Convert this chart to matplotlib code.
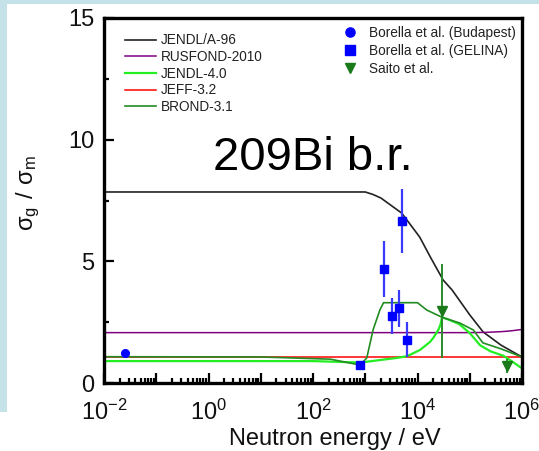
import matplotlib
matplotlib.use("Agg")
import matplotlib.pyplot as plt
from matplotlib.patches import Rectangle
from matplotlib.ticker import LogLocator, FixedLocator, FuncFormatter, NullFormatter
import numpy as np

plt.rcParams['font.family'] = ['Liberation Sans', 'DejaVu Sans']
plt.rcParams['mathtext.default'] = 'regular'
plt.rcParams['axes.unicode_minus'] = False

# Evaluated-library ratios sigma_g / sigma_m versus neutron energy (eV)
jendl_a96_E = [1e-2, 1e3, 1.4e3, 2e3, 5e3, 1.1e4, 1.8e4, 3.1e4, 4.6e4, 1e5, 1.8e5, 4e5, 1e6]
jendl_a96 = [7.85, 7.85, 7.75, 7.6, 6.98, 6.0, 5.14, 4.23, 3.82, 2.8, 2.1, 1.55, 1.07]

rusfond_E = [1e-2, 1e5, 2e5, 4e5, 6e5, 1e6]
rusfond = [2.07, 2.07, 2.08, 2.11, 2.14, 2.2]

jendl40_E = [1e-2, 1e2, 800, 4000, 6300, 1.12e4, 1.74e4, 2e4, 2.5e4, 2.75e4, 2.95e4,
             4e4, 6.3e4, 1e5, 1.58e5, 2.5e5, 4.4e5, 6.3e5, 1e6]
jendl40 = [0.9, 0.9, 0.84, 1.03, 1.1, 1.36, 1.69, 1.85, 2.18, 2.4, 2.7,
           2.6, 2.42, 2.05, 1.55, 1.3, 1.12, 0.9, 0.6]

jeff32_E = [1e-2, 1e6]
jeff32 = [1.08, 1.08]

brond31_E = [1e-2, 10, 214, 794, 1070, 1410, 1905, 2240, 1e4, 1.5e4, 2.95e4,
             6.5e4, 1.17e5, 1.78e5, 4e5, 1e6]
brond31 = [1.08, 1.07, 0.98, 0.74, 1.03, 2.18, 3.0, 3.3, 3.3, 3.0, 2.7,
           2.46, 2.18, 1.65, 1.4, 1.07]

# Measurements
budapest_E = [0.0253]
budapest = [1.23]

gelina_E = [800, 2300, 3200, 4500, 5000, 6300]
gelina = [0.74, 4.68, 2.75, 3.08, 6.66, 1.77]
gelina_err = [0.05, 1.15, 0.75, 0.76, 1.3, 0.72]

saito_E = [2.95e4, 5.1e5]
saito = [2.95, 0.70]
saito_err = [1.93, 0.3]

W, H = 539, 451
fig = plt.figure(figsize=(W / 100, H / 100), dpi=100)
fig.patch.set_facecolor('white')

# light blue slide border
band = '#c4e2e7'
fig.add_artist(Rectangle((0, (H - 412) / H), 7 / W, 412 / H, transform=fig.transFigure,
                         facecolor=band, edgecolor='none', zorder=0))
fig.add_artist(Rectangle((0, (H - 4) / H), 1, 4 / H, transform=fig.transFigure,
                         facecolor=band, edgecolor='none', zorder=0))

ax = fig.add_axes([104 / W, (H - 383) / H, (522 - 104) / W, (383 - 18) / H])

l1, = ax.plot(jendl_a96_E, jendl_a96, color='#222222', lw=1.2, label='JENDL/A-96')
l2, = ax.plot(rusfond_E, rusfond, color='#800080', lw=1.1, label='RUSFOND-2010')
l4, = ax.plot(jeff32_E, jeff32, color='#ff0000', lw=1.1, label='JEFF-3.2')
l3, = ax.plot(jendl40_E, jendl40, color='#22ee22', lw=1.6, label='JENDL-4.0')
l5, = ax.plot(brond31_E, brond31, color='#228b22', lw=1.2, label='BROND-3.1')

ax.errorbar(gelina_E, gelina, yerr=gelina_err, fmt='none', ecolor='#3a3aff', elinewidth=1.6,
            capsize=0, zorder=4)
ax.errorbar(saito_E, saito, yerr=saito_err, fmt='none', ecolor='#2a8a2a', elinewidth=1.4,
            capsize=0, zorder=4)
m1, = ax.plot(budapest_E, budapest, 'o', color='#0000ff', ms=5.5, ls='none', zorder=5,
              label='Borella et al. (Budapest)')
m2, = ax.plot(gelina_E, gelina, 's', color='#0000ff', ms=5.5, ls='none', zorder=5,
              label='Borella et al. (GELINA)')
m3, = ax.plot(saito_E, saito, 'v', color='#1a7a1a', ms=6.5, ls='none', zorder=5,
              label='Saito et al.')

ax.set_xscale('log')
ax.set_xlim(1e-2, 1e6)
ax.set_ylim(0, 15)

ax.xaxis.set_major_locator(LogLocator(base=10, numticks=20))
ax.xaxis.set_minor_locator(LogLocator(base=10, subs=np.arange(2, 10), numticks=20))


def even_decades(v, pos):
    e = int(round(np.log10(v)))
    return r'$\mathregular{10^{%d}}$' % e if e % 2 == 0 else ''


ax.xaxis.set_major_formatter(FuncFormatter(even_decades))
ax.xaxis.set_minor_formatter(NullFormatter())
ax.yaxis.set_major_locator(FixedLocator([0, 5, 10, 15]))
ax.yaxis.set_minor_locator(FixedLocator([2.5, 7.5, 12.5]))

for s in ax.spines.values():
    s.set_linewidth(2.4)
ax.tick_params(which='major', direction='in', length=7.5, width=1.6, labelsize=17,
               top=False, right=False, colors='black', labelcolor='#111111')
ax.tick_params(axis='y', which='major', pad=7)
ax.tick_params(axis='x', which='major', pad=12)
ax.tick_params(which='minor', direction='in', length=3.5, width=1.6, top=False, right=False)

ax.set_xlabel('Neutron energy / eV', fontsize=17, color='#111111')
ax.xaxis.set_label_coords(0.553, -0.122)
ax.set_ylabel(r'$\mathregular{σ_g\ /\ σ_m}$', fontsize=17, color='#111111')
ax.yaxis.set_label_coords(-0.148, 0.52)

ax.text(0.499, 0.584, '209Bi b.r.', transform=ax.transAxes, fontsize=34, ha='center',
        va='baseline', color='black')

leg1 = ax.legend(handles=[l1, l2, l3, l4, l5], loc='upper left', bbox_to_anchor=(0.05, 0.958),
                 frameon=False, fontsize=9.8, handlelength=2.3, handletextpad=0.35,
                 labelspacing=0.2, borderpad=0, borderaxespad=0, labelcolor='#222222')
ax.add_artist(leg1)
ax.legend(handles=[m1, m2, m3], loc='upper right', bbox_to_anchor=(0.985, 0.978),
          frameon=False, fontsize=9.8, handlelength=1.0, handletextpad=0.9,
          labelspacing=0.3, borderpad=0, borderaxespad=0, labelcolor='#222222',
          markerscale=1.2)

fig.savefig('out.png', dpi=100)
